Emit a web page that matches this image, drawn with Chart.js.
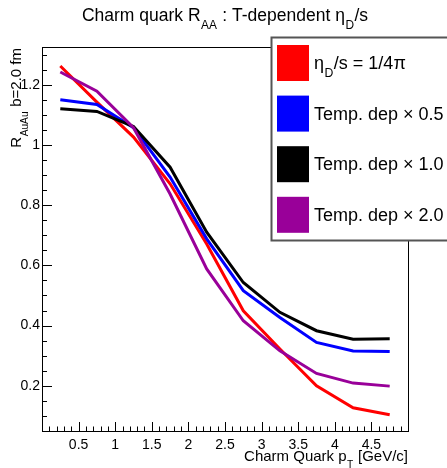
<!DOCTYPE html>
<html>
<head>
<meta charset="utf-8">
<script src="https://cdn.jsdelivr.net/npm/chart.js@4/dist/chart.umd.min.js"></script>
<style>html,body{margin:0;padding:0;background:#fff}canvas{display:block}</style>
</head>
<body>
<canvas id="chart" width="447" height="468"></canvas>
<script>
// pT bin centres [GeV/c]
const ptBins = [0.25, 0.75, 1.25, 1.75, 2.25, 2.75, 3.25, 3.75, 4.25, 4.75];
// R_AA values
const raaConst = [1.262, 1.142, 1.026, 0.871, 0.671, 0.449, 0.322, 0.200, 0.127, 0.104];
const raaTemp05 = [1.150, 1.134, 1.057, 0.893, 0.688, 0.516, 0.427, 0.344, 0.316, 0.314];
const raaTemp10 = [1.120, 1.111, 1.061, 0.926, 0.710, 0.543, 0.444, 0.383, 0.355, 0.356];
const raaTemp20 = [1.242, 1.178, 1.057, 0.837, 0.588, 0.416, 0.316, 0.241, 0.209, 0.199];

const seriesLabels = ['η_{D}/s = 1/4π', 'Temp. dep × 0.5', 'Temp. dep × 1.0', 'Temp. dep × 2.0'];
const seriesColors = ['#ff0000', '#0000ff', '#000000', '#990099'];

const xTickValues = [0.5, 1, 1.5, 2, 2.5, 3, 3.5, 4, 4.5];
const xTickLabels = ['0.5', '1', '1.5', '2', '2.5', '3', '3.5', '4', '4.5'];
const yTickValues = [0.2, 0.4, 0.6, 0.8, 1.0, 1.2];
const yTickLabels = ['0.2', '0.4', '0.6', '0.8', '1', '1.2'];

const FONT = '"Liberation Sans", Arial, Helvetica, sans-serif';

// draw a string with _{...} subscripts
function richText(ctx, str, x, y, size, align) {
  const parts = [];
  const re = /_\{([^}]*)\}/g;
  let last = 0, m;
  while ((m = re.exec(str))) {
    if (m.index > last) parts.push({ t: str.slice(last, m.index), sub: false });
    parts.push({ t: m[1], sub: true });
    last = re.lastIndex;
  }
  if (last < str.length) parts.push({ t: str.slice(last), sub: false });
  let w = 0;
  parts.forEach(p => {
    ctx.font = (p.sub ? size * 0.68 : size) + 'px ' + FONT;
    p.w = ctx.measureText(p.t).width + (p.sub ? 1 : 0);
    w += p.w;
  });
  let cx = align === 'right' ? x - w : align === 'center' ? x - w / 2 : x;
  ctx.textAlign = 'left';
  ctx.textBaseline = 'alphabetic';
  parts.forEach(p => {
    ctx.font = (p.sub ? size * 0.68 : size) + 'px ' + FONT;
    ctx.fillText(p.t, cx + (p.sub ? 0.5 : 0), y + (p.sub ? size * 0.45 : 0));
    cx += p.w;
  });
}

const rootStyle = {
  id: 'rootStyle',
  beforeDatasetsDraw(chart) {
    const { ctx, chartArea: a, scales: { x, y } } = chart;
    ctx.save();
    ctx.strokeStyle = '#000';
    ctx.lineWidth = 1;
    ctx.beginPath();
    for (let i = 1; i < 50; i++) {
      const v = i / 10;
      const px = Math.round(x.getPixelForValue(v)) + 0.5;
      const len = (i % 5 === 0) ? 9 : 4.5;
      ctx.moveTo(px, a.bottom);
      ctx.lineTo(px, a.bottom - len);
    }
    for (let i = 2; i <= 26; i++) {
      const v = i * 0.05;
      const py = Math.round(y.getPixelForValue(v)) + 0.5;
      const len = (i % 4 === 0) ? 10 : 5;
      ctx.moveTo(a.left, py);
      ctx.lineTo(a.left + len, py);
    }
    ctx.stroke();
    ctx.restore();
  },
  afterDraw(chart) {
    const { ctx, chartArea: a } = chart;
    ctx.save();
    // frame
    ctx.strokeStyle = '#000';
    ctx.lineWidth = 1;
    ctx.strokeRect(Math.round(a.left) + 0.5, Math.round(a.top) + 0.5,
      Math.round(a.right - a.left), Math.round(a.bottom - a.top));

    ctx.fillStyle = '#000';
    // title
    richText(ctx, 'Charm quark R_{AA} : T-dependent η_{D}/s', 225, 21, 17.5, 'center');
    // x title
    richText(ctx, 'Charm Quark p_{T} [GeV/c]', 408, 461, 15, 'right');
    // y title
    ctx.save();
    ctx.translate(21, 48);
    ctx.rotate(-Math.PI / 2);
    richText(ctx, 'R_{AuAu} b=2.0 fm', 0, 0, 15, 'right');
    ctx.restore();

    // legend box
    ctx.fillStyle = '#fff';
    ctx.fillRect(271, 37, 180, 203);
    ctx.strokeStyle = '#555';
    ctx.lineWidth = 2;
    ctx.strokeRect(271.5, 37.5, 180, 203);
    chart.data.datasets.forEach((ds, i) => {
      const top = 45 + i * 50.6;
      ctx.fillStyle = ds.borderColor;
      ctx.fillRect(277, top, 32, 36);
      ctx.fillStyle = '#000';
      richText(ctx, ds.label, 314, top + 24, 18, 'left');
    });
    ctx.restore();
  }
};

const ctx = document.getElementById('chart');
const seriesData = [raaConst, raaTemp05, raaTemp10, raaTemp20];

new Chart(ctx, {
  type: 'line',
  data: {
    datasets: seriesData.map((vals, i) => ({
      label: seriesLabels[i],
      data: ptBins.map((p, j) => ({ x: p, y: vals[j] })),
      borderColor: seriesColors[i],
      backgroundColor: seriesColors[i],
      borderWidth: 3,
      pointRadius: 0,
      tension: 0,
      order: 3 - i
    }))
  },
  options: {
    responsive: false,
    animation: false,
    events: [],
    layout: { padding: { top: 47, right: 39, left: 0, bottom: 0 } },
    plugins: {
      legend: { display: false },
      title: { display: false },
      tooltip: { enabled: false }
    },
    scales: {
      x: {
        type: 'linear',
        min: 0,
        max: 5,
        grid: { display: false, drawTicks: false },
        border: { display: false },
        afterFit: s => { s.height = 37; },
        afterBuildTicks: s => { s.ticks = xTickValues.map(v => ({ value: v })); },
        ticks: {
          padding: 6,
          maxRotation: 0,
          autoSkip: false,
          color: '#000',
          font: { family: FONT, size: 14 },
          callback: (v, i) => xTickLabels[i]
        }
      },
      y: {
        type: 'linear',
        min: 0.05,
        max: 1.325,
        grid: { display: false, drawTicks: false },
        border: { display: false },
        afterFit: s => { s.width = 42; },
        afterBuildTicks: s => { s.ticks = yTickValues.map(v => ({ value: v })); },
        ticks: {
          padding: 2,
          autoSkip: false,
          color: '#000',
          font: { family: FONT, size: 14 },
          callback: (v, i) => yTickLabels[i]
        }
      }
    }
  },
  plugins: [rootStyle]
});
</script>
</body>
</html>
